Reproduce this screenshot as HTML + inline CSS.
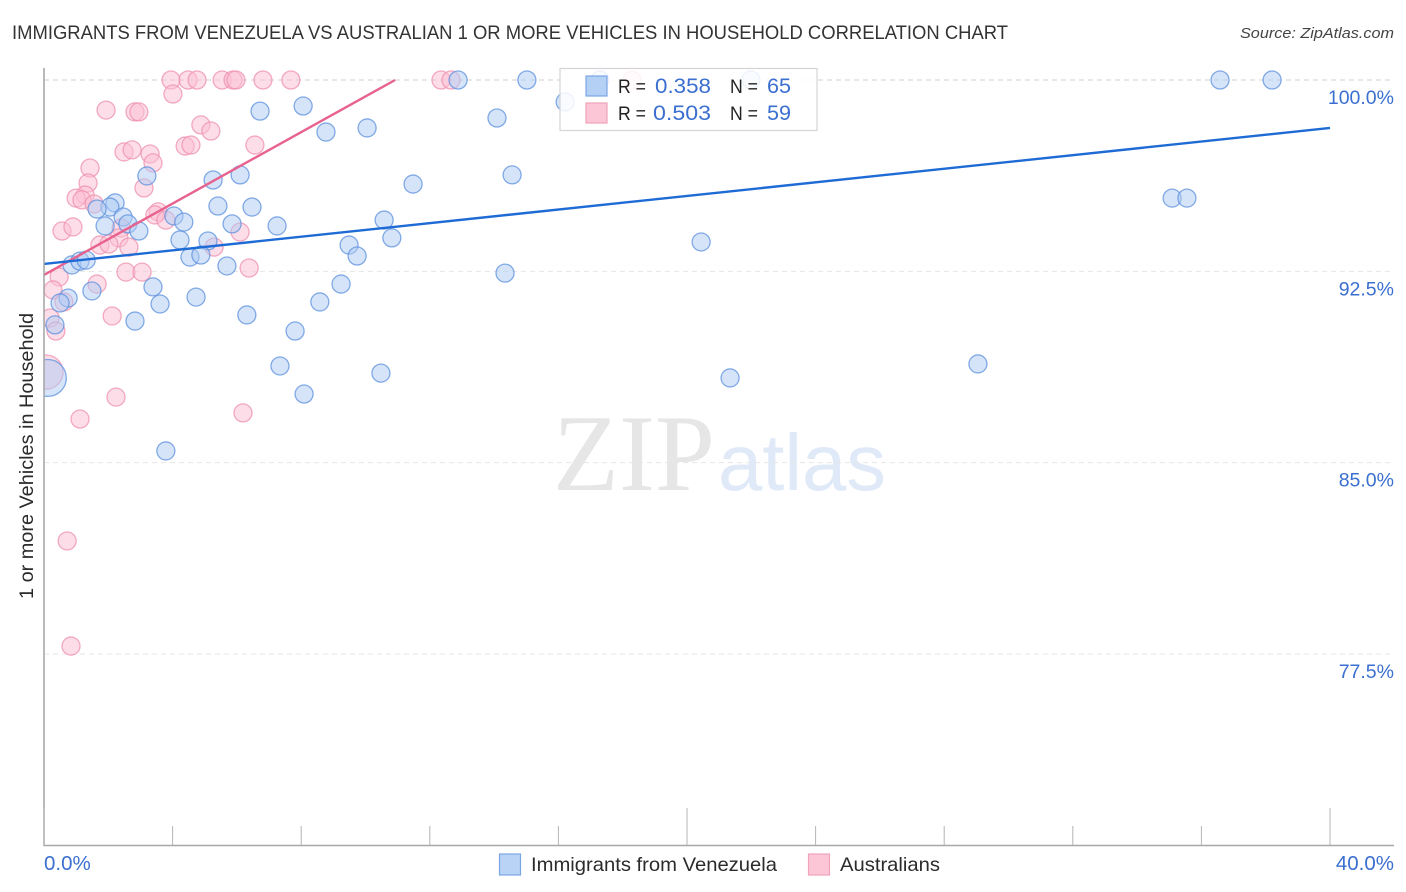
<!DOCTYPE html>
<html lang="en">
<head>
<meta charset="utf-8">
<title>Immigrants from Venezuela vs Australian 1 or more Vehicles in Household Correlation Chart</title>
<style>
  html, body { margin: 0; padding: 0; background: #fff; }
  #chart { display: block; width: 1406px; height: 892px; font-family: "Liberation Sans", sans-serif; }
</style>
</head>
<body>
<svg id="chart" xmlns="http://www.w3.org/2000/svg" width="1406" height="892" viewBox="0 0 1406 892">
  <defs>
    <clipPath id="plot-clip"><rect x="44" y="68" width="1350" height="777"></rect></clipPath>
  </defs>

  <text x="12" y="39" font-size="19.5" fill="#333" textLength="996" lengthAdjust="spacingAndGlyphs">IMMIGRANTS FROM VENEZUELA VS AUSTRALIAN 1 OR MORE VEHICLES IN HOUSEHOLD CORRELATION CHART</text>
  <text x="1394" y="38" font-size="15" font-style="italic" fill="#444" text-anchor="end" textLength="154" lengthAdjust="spacingAndGlyphs">Source: ZipAtlas.com</text>

  <g>
    <text x="553" y="490" font-family="'Liberation Serif', serif" font-size="109" fill="#e6e6e6" textLength="162" lengthAdjust="spacingAndGlyphs">ZIP</text>
    <text x="718" y="490" font-size="80" fill="#dfe9f8" textLength="168" lengthAdjust="spacingAndGlyphs">atlas</text>
  </g>

  <g id="grid"></g>
  <g id="pink-points" clip-path="url(#plot-clip)"></g>
  <g id="blue-points" clip-path="url(#plot-clip)"></g>
  <g id="trends"></g>
  <g id="axes"></g>

  <text transform="translate(33,456) rotate(-90)" font-size="19" fill="#2b2b2b" text-anchor="middle" textLength="286" lengthAdjust="spacingAndGlyphs">1 or more Vehicles in Household</text>

  <g>
    <rect x="560" y="68.500" width="257" height="62" fill="#fff" fill-opacity="0.85" stroke="#d4d4d4" stroke-width="1.2"></rect>
    <rect x="586" y="76" width="21" height="20" fill="#b4d0f5" stroke="#7ba6e6" stroke-width="1.2"></rect>
    <rect x="586" y="103" width="21" height="20" fill="#fcc6d6" stroke="#f0a3bb" stroke-width="1.2"></rect>
    <text x="618" y="93" font-size="19.500" fill="#222" textLength="28" lengthAdjust="spacingAndGlyphs">R =</text>
    <text x="655" y="93" font-size="21" fill="#3b6fd0" textLength="56" lengthAdjust="spacingAndGlyphs">0.358</text>
    <text x="730" y="93" font-size="19.500" fill="#222" textLength="28" lengthAdjust="spacingAndGlyphs">N =</text>
    <text x="767" y="93" font-size="21" fill="#3b6fd0" textLength="24" lengthAdjust="spacingAndGlyphs">65</text>
    <text x="618" y="120" font-size="19.500" fill="#222" textLength="28" lengthAdjust="spacingAndGlyphs">R =</text>
    <text x="653" y="120" font-size="21" fill="#3b6fd0" textLength="58" lengthAdjust="spacingAndGlyphs">0.503</text>
    <text x="730" y="120" font-size="19.500" fill="#222" textLength="28" lengthAdjust="spacingAndGlyphs">N =</text>
    <text x="767" y="120" font-size="21" fill="#3b6fd0" textLength="24" lengthAdjust="spacingAndGlyphs">59</text>
  </g>

  <g>
    <rect x="499.500" y="854" width="21" height="21" fill="#b9d3f6" stroke="#7ba6e6" stroke-width="1.2"></rect>
    <text x="531" y="871" font-size="19.500" fill="#2b2b2b" textLength="246" lengthAdjust="spacingAndGlyphs">Immigrants from Venezuela</text>
    <rect x="808.500" y="854" width="21" height="21" fill="#fcc6d6" stroke="#f0a3bb" stroke-width="1.2"></rect>
    <text x="840" y="871" font-size="19.500" fill="#2b2b2b" textLength="100" lengthAdjust="spacingAndGlyphs">Australians</text>
  </g>
</svg>

<script>
const blueX = [15.02,12.88,17.29,21.99,36.58,38.20,16.21,8.06,6.72,14.09,8.77,10.05,6.10,5.26,3.20,11.48,14.56,35.09,35.55,2.21,2.05,1.65,5.41,6.47,2.46,2.61,1.90,2.95,4.04,4.35,5.85,7.25,10.58,10.82,4.23,5.10,9.49,9.74,20.44,4.54,4.88,5.69,0.87,1.12,1.31,14.34,3.39,1.49,9.24,4.73,0.75,3.61,8.58,0.50,6.31,2.83,0.34,7.81,7.34,10.48,8.09,21.34,29.05,3.79,0.12];
const blueY = [100,100,100,100,100,100,99.14,98.98,98.78,98.51,97.96,98.12,96.28,96.08,96.24,95.92,96.28,95.37,95.37,95.18,95.02,94.94,95.06,95.02,94.63,94.36,94.28,94.08,94.67,94.43,94.36,94.28,94.51,93.81,93.73,93.69,93.53,93.10,93.65,93.06,93.14,92.71,92.75,92.90,92.94,92.43,91.89,91.73,92.00,91.49,91.45,91.22,91.30,91.26,90.79,90.55,90.40,90.16,88.79,88.51,87.69,88.32,88.87,85.46,88.32];
const blueWeight = [1,1,1,1,1,1,1,1,1,1,1,1,1,1,1,1,1,1,1,1,1,1,1,1,1,1,1,1,1,1,1,1,1,1,1,1,1,1,1,1,1,1,1,1,1,1,1,1,1,1,1,1,1,1,1,1,1,1,1,1,1,1,1,1,4.2];
const pinkX = [3.95,4.48,4.76,5.54,5.88,5.97,6.81,7.68,12.35,12.66,18.29,4.01,1.93,2.83,2.95,4.88,5.19,4.39,4.57,2.49,2.74,3.30,6.56,3.39,1.43,1.37,3.11,1.28,1.00,1.18,1.56,3.55,3.45,3.79,0.56,0.90,6.10,2.40,2.33,2.64,1.74,2.02,5.29,2.55,3.05,6.38,0.47,0.28,1.65,0.62,2.12,0.19,0.37,0.06,2.24,6.19,1.12,0.72,0.84];
const pinkY = [100,100,100,100,100,100,100,100,100,100,100,99.45,98.82,98.75,98.75,98.24,98.00,97.41,97.45,97.18,97.26,97.10,97.45,96.75,96.55,95.96,95.77,95.49,95.37,95.30,95.14,94.83,94.71,94.51,94.08,94.24,94.04,94.20,93.81,93.45,93.53,93.57,93.45,92.47,92.47,92.63,92.28,91.77,92.00,91.30,90.75,90.67,90.16,88.55,87.57,86.95,86.71,81.93,77.81];
const pinkWeight = [1,1,1,1,1,1,1,1,1,1,1,1,1,1,1,1,1,1,1,1,1,1,1,1,1,1,1,1,1,1,1,1,1,1,1,1,1,1,1,1,1,1,1,1,1,1,1,1,1,1,1,1,1,3.6,1,1,1,1,1];
const blueTrendX = [0, 40];
const blueTrendY = [92.79, 98.12];
const pinkTrendX = [0, 10.92];
const pinkTrendY = [92.36, 100];
const yTickValues = [100, 92.5, 85, 77.5];
const yTickLabels = ['100.0%', '92.5%', '85.0%', '77.5%'];
const xTickValues = [0, 4, 8, 12, 16, 20, 24, 28, 32, 36, 40];
const xMajorTicks = [0, 20, 40];
const xEndValues = [0, 40];
const xEndLabels = ['0.0%', '40.0%'];

const NS = 'http://www.w3.org/2000/svg';
const xScale = v => 44 + v * 32.15;
const yScale = v => 80 + (100 - v) * 25.51;
const BASE_RADIUS = 9;

function make(tag, parent, attrs, text) {
  const el = document.createElementNS(NS, tag);
  for (const k in attrs) el.setAttribute(k, attrs[k]);
  if (text !== undefined) el.textContent = text;
  parent.appendChild(el);
  return el;
}

const grid = document.getElementById('grid');
yTickValues.forEach((v, i) => {
  const line = make('line', grid, {
    x1: 44, x2: 1394, y1: yScale(v), y2: yScale(v),
    stroke: i === 0 ? '#d2d2d2' : '#e6e6e6', 'stroke-width': 1, 'stroke-dasharray': '5 4'
  });
  
  
});

function drawPoints(groupId, xs, ys, weights, fill, stroke, name) {
  const group = document.getElementById(groupId);
  xs.forEach((x, i) => {
    const dot = make('circle', group, {
      cx: xScale(x), cy: yScale(ys[i]), r: BASE_RADIUS * Math.sqrt(weights[i]),
      fill: fill, 'fill-opacity': 0.52, stroke: stroke, 'stroke-opacity': 0.75, 'stroke-width': 1.3
    });
    
    
  });
}
drawPoints('pink-points', pinkX, pinkY, pinkWeight, '#fbc0d2', '#ee8fae', 'australians-point');
drawPoints('blue-points', blueX, blueY, blueWeight, '#aecbf3', '#5c90de', 'venezuela-point');

const trends = document.getElementById('trends');
const pinkTrend = make('line', trends, {
  x1: xScale(pinkTrendX[0]), x2: xScale(pinkTrendX[1]), y1: yScale(pinkTrendY[0]), y2: yScale(pinkTrendY[1]),
  stroke: '#e8628f', 'stroke-width': 2.4
});


const blueTrend = make('line', trends, {
  x1: xScale(blueTrendX[0]), x2: xScale(blueTrendX[1]), y1: yScale(blueTrendY[0]), y2: yScale(blueTrendY[1]),
  stroke: '#1f6bd6', 'stroke-width': 2.4
});



const axes = document.getElementById('axes');
const yAxis = make('line', axes, { x1: 44, x2: 44, y1: 68, y2: 846, stroke: '#a8a8a8', 'stroke-width': 1.6 });


const xAxis = make('line', axes, { x1: 44, x2: 1394, y1: 845.5, y2: 845.5, stroke: '#a8a8a8', 'stroke-width': 1.6 });



xTickValues.forEach(v => {
  const tick = make('line', axes, {
    x1: xScale(v), x2: xScale(v), y1: xMajorTicks.includes(v) ? 808 : 826, y2: 845,
    stroke: '#b4b4b4', 'stroke-width': 1
  });
  
  
});

yTickValues.forEach((v, i) => {
  const label = make('text', axes, {
    x: 1394, y: yScale(v) + 24, 'font-size': 19.5, fill: '#3b6fd0', 'text-anchor': 'end'
  }, yTickLabels[i]);
  
  
});

xEndValues.forEach((v, i) => {
  const label = make('text', axes, {
    x: i === 0 ? xScale(v) : 1394, y: 870, 'font-size': 20.5, fill: '#3b6fd0',
    'text-anchor': i === 0 ? 'start' : 'end'
  }, xEndLabels[i]);
  
  
});
</script>
</body>
</html>
